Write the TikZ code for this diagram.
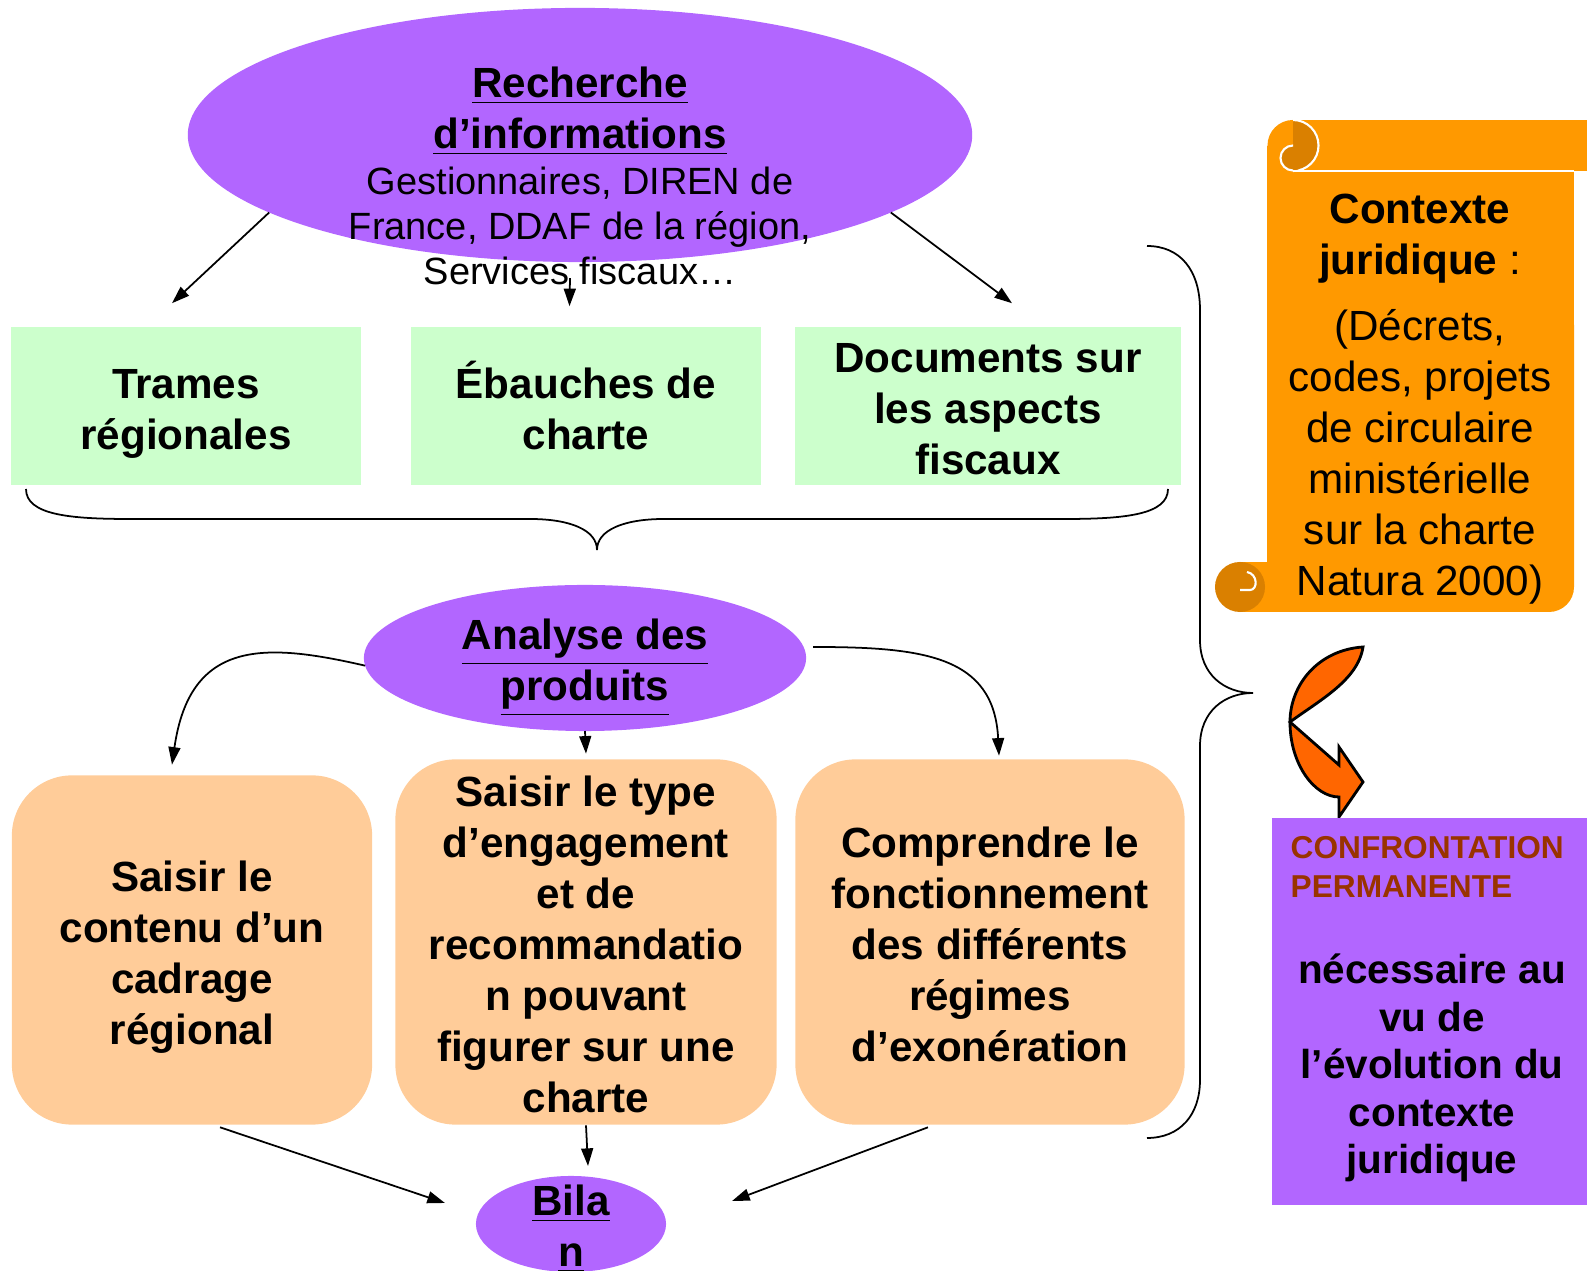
\documentclass[tikz,border=0pt]{standalone}
\usepackage{fontspec}
\setmainfont{Liberation Sans}
\usetikzlibrary{shapes.geometric,arrows.meta}
\definecolor{mauve}{RGB}{178,102,255}
\definecolor{vertpale}{RGB}{204,255,204}
\definecolor{peche}{RGB}{255,204,153}
\definecolor{orparchemin}{RGB}{255,153,0}
\definecolor{orroule}{RGB}{218,128,0}
\definecolor{orfleche}{RGB}{255,102,0}
\definecolor{brique}{RGB}{153,51,0}
\newcommand{\gras}{\bfseries\fontsize{12}{14.5}\selectfont}
\newcommand{\fin}{\fontsize{10.8}{12.9}\selectfont}
\newcommand{\normal}{\fontsize{12}{14.5}\selectfont}
\begin{document}
\begin{tikzpicture}[x=0.01cm,y=-0.01cm,
        fleche/.style={-{Triangle[length=5pt,width=3.4pt]},line width=0.5pt},
        bulle/.style={ellipse,fill=mauve,inner sep=0pt,outer sep=0pt},
        cadre/.style={rectangle,fill=vertpale,inner sep=0pt},
        pave/.style={rectangle,rounded corners=0.6cm,fill=peche,inner sep=0pt},
        texte/.style={align=center,inner sep=0pt}]
        \useasboundingbox (0,0) rectangle (1587,1271);

        % recherche
        \node[bulle,minimum width=7.84cm,minimum height=2.54cm] (recherche) at (580,135) {};
        \node[texte,font=\gras] (recherchetitre) at (580,111) {\underline{Recherche}\\\underline{d’informations}};
        \node[texte,font=\fin] (recherchesources) at (580,226) {Gestionnaires, DIREN de\\France, DDAF de la région,\\Services fiscaux…};

        \node[cadre,minimum width=3.49cm,minimum height=1.58cm] (trames) at (186,406) {};
        \node[cadre,minimum width=3.49cm,minimum height=1.58cm] (ebauches) at (586,406) {};
        \node[cadre,minimum width=3.86cm,minimum height=1.58cm] (documents) at (988,406) {};
        \node[texte,font=\gras] (tramestexte) at (186,414) {Trames\\régionales};
        \node[texte,font=\gras] (ebauchestexte) at (586,406) {Ébauches de\\charte};
        \node[texte,font=\gras] (documentstexte) at (988,409.5) {Documents sur\\les aspects\\fiscaux};

        \draw[fleche] (recherche.194) -- ([xshift=-0.14cm,yshift=0.23cm]trames.north);
        \draw[fleche] ([xshift=-0.1cm,yshift=-0.16cm]recherche.south) -- ([xshift=-0.165cm,yshift=0.2cm]ebauches.north);
        \draw[fleche] (recherche.346) -- ([xshift=0.24cm,yshift=0.23cm]documents.north);

        % accolade du bas
        \draw[line width=0.5pt]
        (26,489) .. controls (26,515) and (70,519) .. (130,519) -- (530,519)
        .. controls (570,519) and (597,530) .. (597,550)
        .. controls (597,530) and (624,519) .. (664,519) -- (1064,519)
        .. controls (1124,519) and (1168,515) .. (1168,489);

        % analyse
        \node[bulle,minimum width=4.42cm,minimum height=1.46cm] (analyse) at (585,658) {};
        \node[texte,font=\gras] (analysetitre) at (585,668) {\underline{Analyse des}\\\underline{produits}};

        \node[pave,minimum width=3.6cm,minimum height=3.49cm] (cadrage) at (192,950) {};
        \node[pave,minimum width=3.81cm,minimum height=3.65cm] (engagement) at (586,942) {};
        \node[pave,minimum width=3.89cm,minimum height=3.65cm] (regimes) at (990,942) {};
        \node[texte,font=\gras] (cadragetexte) at (192,957) {Saisir le\\contenu d’un\\cadrage\\régional};
        \node[texte,font=\gras] (engagementtexte) at (586,944.5) {Saisir le type\\d’engagement\\et de\\recommandatio\\n pouvant\\figurer sur une\\charte};
        \node[texte,font=\gras] (regimestexte) at (990,944) {Comprendre le\\fonctionnement\\des différents\\régimes\\d’exonération};

        \draw[fleche] (analyse.182) .. controls +(-100,-23) and +(18,-126) .. ([xshift=-0.2cm,yshift=0.1cm]cadrage.north);
        \draw[fleche] (analyse.south) -- ([yshift=0.05cm]engagement.north);
        \draw[fleche] ([xshift=0.07cm,yshift=0.11cm]analyse.east) .. controls +(110,0) and +(-5,-100) .. ([xshift=0.09cm,yshift=0.03cm]regimes.north);

        % bilan
        \node[bulle,minimum width=1.9cm,minimum height=0.96cm] (bilan) at (571,1224) {};
        \node[texte,font=\gras] (bilantitre) at (571,1229) {\underline{Bila}\\\underline{n}};

        \draw[fleche] ([xshift=0.28cm,yshift=-0.02cm]cadrage.south) -- ([xshift=-0.31cm,yshift=0.21cm]bilan.west);
        \draw[fleche] (engagement.south) -- ([xshift=0.17cm,yshift=0.1cm]bilan.north);
        \draw[fleche] ([xshift=-0.62cm,yshift=-0.02cm]regimes.south) -- ([xshift=0.66cm,yshift=0.23cm]bilan.east);

        % accolade de droite
        \draw[line width=0.5pt]
        (1147,246) .. controls (1180,246) and (1200,270) .. (1200,310) -- (1200,640)
        .. controls (1200,675) and (1225,693) .. (1253,693)
        .. controls (1225,693) and (1200,711) .. (1200,746) -- (1200,1080)
        .. controls (1200,1115) and (1180,1138) .. (1147,1138);

        % parchemin
        \fill[orparchemin] (1267,146) rectangle (1574,500);
        \fill[orparchemin,rounded corners=0.25cm] (1267,300) rectangle (1574,612);
        \fill[orparchemin] (1240,562) rectangle (1420,612);
        \fill[orparchemin] (1293,120) rectangle (1587,171);
        \fill[orparchemin] (1293,145.5) circle (0.255cm);
        \begin{scope}
            \clip (1293,100) rectangle (1340,190);
            \fill[orroule] (1293,145.5) circle (0.255cm);
            \draw[white,line width=0.6pt] (1293,145.5) circle (0.255cm);
        \end{scope}
        \fill[orroule] (1293,158) circle (0.125cm);
        \begin{scope}
            \clip (1260,140) rectangle (1293,190);
            \draw[white,line width=0.6pt] (1293,158) circle (0.125cm);
        \end{scope}
        \draw[white,line width=0.6pt] (1293,171) -- (1574,171);
        \fill[orroule] (1240,587) circle (0.25cm);
        \draw[white,line width=0.6pt] (1240,590) -- (1250,590) .. controls (1258,590) and (1258,574) .. (1247,572);
        \node[texte,font=\normal] (contexte) at (1420,239) {\textbf{Contexte}\\\textbf{juridique} :};
        \node[texte,font=\normal] (textes) at (1420,457) {(Décrets,\\codes, projets\\de circulaire\\ministérielle\\sur la charte\\Natura 2000)};

        % fleche courbe
        \draw[fill=orfleche,line width=0.8pt,line join=miter]
        (1363,647) .. controls (1318,650) and (1290,685) .. (1290,722)
        .. controls (1290,765) and (1315,797) .. (1339,797)
        -- (1339,817) -- (1363,782) -- (1339,747) -- (1339,765) -- (1290,722)
        .. controls (1320,700) and (1358,680) .. (1363,647) -- cycle;

        % confrontation
        \fill[mauve] (1272,818) rectangle (1587,1205);
        \node[anchor=west,align=left,inner sep=0pt,text=brique,font=\bfseries\fontsize{9}{11}\selectfont] (confrontation) at (1290,867) {CONFRONTATION\\PERMANENTE};
        \node[texte,font=\bfseries\fontsize{11.5}{13.5}\selectfont] (evolution) at (1432,1068) {nécessaire au\\vu de\\l’évolution du\\contexte\\juridique};
    \end{tikzpicture}
\end{document}
